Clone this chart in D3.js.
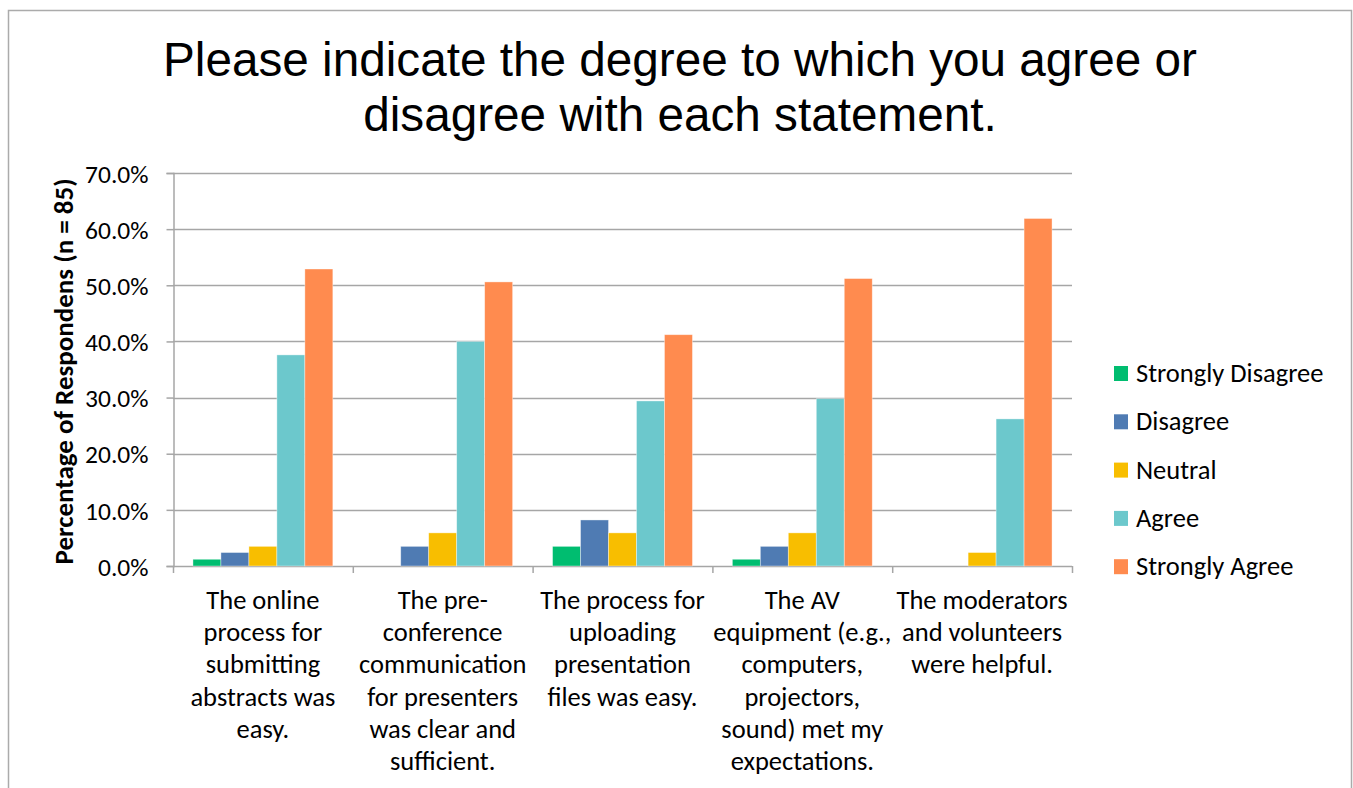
<!DOCTYPE html>
<html>
<head>
<meta charset="utf-8">
<script src="https://cdn.jsdelivr.net/npm/d3@7"></script>
<style>
  html, body { margin: 0; padding: 0; background: #fff; }
  svg { display: block; }
</style>
</head>
<body>
<svg id="chart" width="1353" height="788"></svg>
<script>
// ---------------- DATA ----------------
const categories = [
  "The online process for submitting abstracts was easy.",
  "The pre-conference communication for presenters was clear and sufficient.",
  "The process for uploading presentation files was easy.",
  "The AV equipment (e.g., computers, projectors, sound) met my expectations.",
  "The moderators and volunteers were helpful."
];
const categoryLines = [
  ["The online", "process for", "submitting", "abstracts was", "easy."],
  ["The pre-", "conference", "communication", "for presenters", "was clear and", "sufficient."],
  ["The process for", "uploading", "presentation", "files was easy."],
  ["The AV", "equipment (e.g.,", "computers,", "projectors,", "sound) met my", "expectations."],
  ["The moderators", "and volunteers", "were helpful."]
];
const seriesNames = ["Strongly Disagree", "Disagree", "Neutral", "Agree", "Strongly Agree"];
const stronglyDisagree = [1.2, 0.0, 3.5, 1.2, 0.0];
const disagree         = [2.4, 3.5, 8.2, 3.5, 0.0];
const neutral          = [3.5, 5.9, 5.9, 5.9, 2.4];
const agree            = [37.6, 40.0, 29.4, 29.8, 26.2];
const stronglyAgree    = [52.9, 50.6, 41.2, 51.2, 61.9];
const seriesValues = [stronglyDisagree, disagree, neutral, agree, stronglyAgree];
const seriesColors = ["#00BD70", "#4F7BB3", "#F8BE00", "#6CC8CC", "#FF8B4F"];
const yTicks = [0, 10, 20, 30, 40, 50, 60, 70];
const titleLines = ["Please indicate the degree to which you agree or", "disagree with each statement."];
const yAxisTitle = "Percentage of Respondens (n = 85)";

// ---------------- LAYOUT ----------------
const svg = d3.select("#chart");
const plot = { left: 173, right: 1072, top: 173, bottom: 566 };
const gridColor = "#A6A6A6";
const labelFont = "Carlito, Calibri, Lato, sans-serif";

svg.append("rect").attr("width", 1353).attr("height", 788).attr("fill", "#fff");
// chart border (open at bottom as in reference crop)
svg.append("rect")
  .attr("x", 8.5).attr("y", 10.5).attr("width", 1343).attr("height", 820)
  .attr("fill", "none").attr("stroke", "#ABABAB").attr("stroke-width", 1.5);

// title
const title = svg.append("text")
  .attr("text-anchor", "middle")
  .attr("font-family", "'Liberation Sans', Arial, sans-serif")
  .attr("font-size", 47.7)
  .attr("fill", "#000");
titleLines.forEach((t, i) => {
  title.append("tspan").attr("x", 680).attr("y", 76 + i * 55).text(t);
});

// scales
const y = d3.scaleLinear().domain([0, 70]).range([plot.bottom, plot.top]);
const x0 = d3.scaleBand().domain(d3.range(categories.length)).range([plot.left, plot.right]).padding(0);
const inset = x0.bandwidth() * 0.111;
const x1 = d3.scaleBand().domain(d3.range(seriesNames.length)).range([inset, x0.bandwidth() - inset]).padding(0);

// gridlines
svg.append("g").selectAll("line")
  .data(yTicks.filter(d => d > 0))
  .join("line")
  .attr("x1", plot.left).attr("x2", plot.right)
  .attr("y1", d => Math.round(y(d)) + 0.5).attr("y2", d => Math.round(y(d)) + 0.5)
  .attr("stroke", gridColor).attr("stroke-width", 1.5);

// y axis
const yAxis = svg.append("g")
  .attr("transform", `translate(${plot.left + 0.5},0)`)
  .call(d3.axisLeft(y).tickValues(yTicks).tickSize(7).tickPadding(18)
    .tickFormat(d => d3.format(".1f")(d) + "%"));
yAxis.select(".domain").attr("stroke", gridColor).attr("stroke-width", 1.5);
yAxis.selectAll(".tick line").attr("stroke", gridColor).attr("stroke-width", 1.5);
yAxis.selectAll(".tick text")
  .attr("font-family", labelFont).attr("font-size", 25.5).attr("fill", "#000")
  .attr("dy", "0.36em");

// y axis title
svg.append("text")
  .attr("transform", `translate(73, ${(plot.top + plot.bottom) / 2 + 2}) rotate(-90)`)
  .attr("text-anchor", "middle")
  .attr("font-family", labelFont)
  .attr("font-weight", "bold")
  .attr("font-size", 27)
  .attr("fill", "#000")
  .text(yAxisTitle);

// x axis line and ticks
svg.append("line")
  .attr("x1", plot.left).attr("x2", plot.right)
  .attr("y1", plot.bottom + 0.5).attr("y2", plot.bottom + 0.5)
  .attr("stroke", gridColor).attr("stroke-width", 1.5);
svg.append("g").selectAll("line")
  .data(d3.range(categories.length + 1))
  .join("line")
  .attr("x1", i => (i < categories.length ? x0(i) : plot.right) + 0.5)
  .attr("x2", i => (i < categories.length ? x0(i) : plot.right) + 0.5)
  .attr("y1", plot.bottom).attr("y2", plot.bottom + 7)
  .attr("stroke", gridColor).attr("stroke-width", 1.5);

// bars
const groups = svg.append("g").selectAll("g")
  .data(categories.map((c, ci) => ({ ci, vals: seriesValues.map(s => s[ci]) })))
  .join("g")
  .attr("transform", d => `translate(${x0(d.ci)},0)`);
groups.selectAll("rect")
  .data(d => d.vals.map((v, si) => ({ v, si })))
  .join("rect")
  .filter(d => d.v > 0)
  .attr("x", d => x1(d.si))
  .attr("width", x1.bandwidth())
  .attr("y", d => y(d.v))
  .attr("height", d => y(0) - y(d.v))
  .attr("fill", d => seriesColors[d.si])
  .attr("stroke", "#ffffff").attr("stroke-opacity", 0.5).attr("stroke-width", 0.75);

// category labels
const xl = svg.append("g").selectAll("text")
  .data(categoryLines)
  .join("text")
  .attr("text-anchor", "middle")
  .attr("font-family", labelFont)
  .attr("font-size", 26.5)
  .attr("fill", "#000");
xl.each(function(lines, i) {
  const t = d3.select(this);
  lines.forEach((ln, k) => {
    t.append("tspan")
      .attr("x", x0(i) + x0.bandwidth() / 2)
      .attr("y", 609 + k * 32.2)
      .text(ln);
  });
});

// legend
const legend = svg.append("g").selectAll("g")
  .data(seriesNames)
  .join("g")
  .attr("transform", (d, i) => `translate(1114, ${366 + i * 48.3})`);
legend.append("rect")
  .attr("width", 14).attr("height", 15)
  .attr("fill", (d, i) => seriesColors[i]);
legend.append("text")
  .attr("x", 22).attr("y", 16)
  .attr("font-family", labelFont)
  .attr("font-size", 26.5)
  .attr("fill", "#000")
  .text(d => d);
</script>
</body>
</html>
